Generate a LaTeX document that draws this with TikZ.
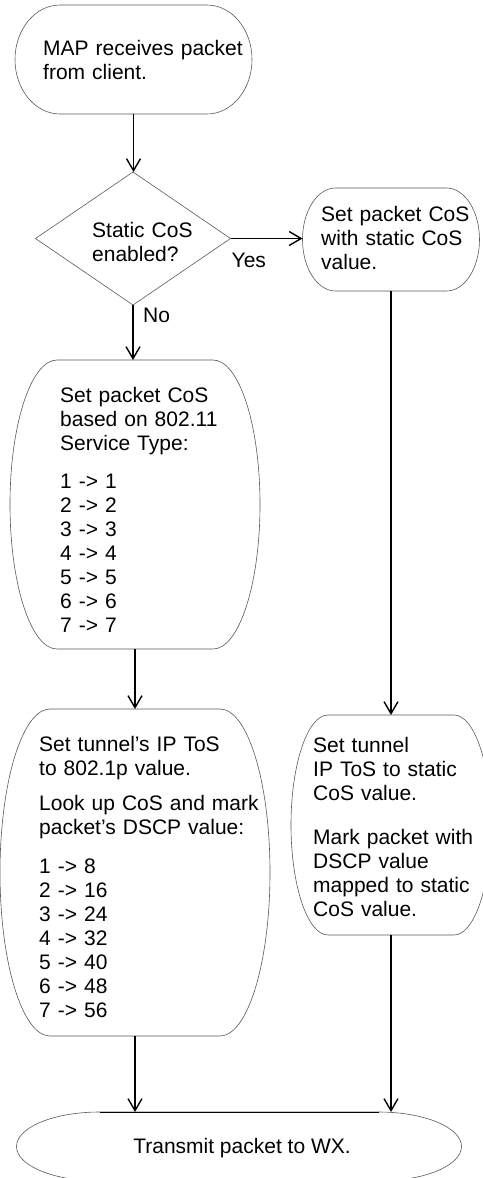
\documentclass[tikz,border=0pt]{standalone}
\usepackage{fontspec}
\setmainfont{Liberation Sans}
\usetikzlibrary{arrows.meta}
\usetikzlibrary{calc}
\usetikzlibrary{shapes.geometric}
\usetikzlibrary{positioning}

% outline of a box with bulging sides: node name, bulge
\newcommand{\capsule}[2]{%
    \draw[outline] let \p1=(#1.north west), \p2=(#1.south east), \n1={(\y1-\y2)/2} in
        (\x1+#2,\y1) -- (\x2-#2,\y1)
        arc[start angle=90, end angle=-90, x radius=#2, y radius={\n1*1pt}]
        -- (\x1+#2,\y2)
        arc[start angle=270, end angle=90, x radius=#2, y radius={\n1*1pt}] -- cycle;}

\begin{document}
\begin{tikzpicture}[x=1pt, y=-1pt,
        font=\fontsize{21}{24}\selectfont,
        outline/.style={draw=black!65, line width=0.6pt},
        flow/.style={draw, line width=1.4pt, -{Straight Barb[length=12pt, width=14pt]}},
        box/.style={inner sep=0pt, outer sep=0pt},
        txt/.style={inner sep=0pt, anchor=base west, align=left, text width=230pt},
        lbl/.style={inner sep=0pt, anchor=base west}]
    \useasboundingbox (0,0) rectangle (482,1178);

    % boxes
    \node[box, minimum width=237pt, minimum height=109pt] (recv) at (133.5,59.5) {};
    \node[box, diamond, outline, minimum width=195pt, minimum height=133pt] (dec) at (133,238.5) {};
    \node[box, minimum width=177pt, minimum height=103pt] (stat) at (391,239.5) {};
    \node[box, minimum width=250pt, minimum height=289pt] (prio) at (135,504.5) {};
    \node[box, minimum width=270pt, minimum height=327pt] (dscp) at (135,872.5) {};
    \node[box, minimum width=200pt, minimum height=220pt] (tun) at (391,825) {};
    \node[box, minimum width=445pt, minimum height=69pt] (tx) at (239,1146.5) {};

    \capsule{recv}{45pt}
    \capsule{stat}{33pt}
    \capsule{prio}{47pt}
    \capsule{dscp}{50pt}
    \capsule{tun}{37pt}
    \capsule{tx}{83pt}
    \draw[line width=1pt] ([xshift=83pt]tx.north west) -- ([xshift=-83pt]tx.north east);

    % texts
    \node[txt] (recv-t) at (43,55) {MAP receives packet\\from client.};
    \node[txt] (dec-t) at (92,237) {Static CoS\\enabled?};
    \node[txt] (stat-t) at (321,221) {Set packet CoS\\with static CoS\\value.};
    \node[txt] (prio-t) at (60,402) {Set packet CoS\\based on 802.11\\Service Type:\\[14pt]
        1 -> 1\\2 -> 2\\3 -> 3\\4 -> 4\\5 -> 5\\6 -> 6\\7 -> 7};
    \node[txt] (dscp-t) at (39,751) {Set tunnel's IP ToS\\to 802.1p value.\\[11pt]
        Look up CoS and mark\\packet's DSCP value:\\[15pt]
        1 -> 8\\2 -> 16\\3 -> 24\\4 -> 32\\5 -> 40\\6 -> 48\\7 -> 56};
    \node[txt] (tun-t) at (313,752) {Set tunnel\\IP ToS to static\\CoS value.\\[20pt]
        Mark packet with\\DSCP value\\mapped to static\\CoS value.};
    \node[inner sep=0pt, anchor=base] (tx-t) at (242,1153) {Transmit packet to WX.};

    \node[lbl] (yes) at ([shift={(1,29)}]dec.east) {Yes};
    \node[lbl] (no) at ([shift={(10,17)}]dec.south) {No};

    % connectors
    \draw[flow] (recv.south) -- (recv.south |- dec.north);
    \draw[flow] (dec.east) -- (dec.east -| stat.west);
    \draw[flow] (dec.south) -- (dec.south |- prio.north);
    \draw[flow] (prio.south) -- (dscp.north);
    \draw[flow] (stat.south) -- (stat.south |- tun.north);
    \draw[flow] (dscp.south) -- (dscp.south |- tx.north);
    \draw[flow] (tun.south) -- (tun.south |- tx.north);
\end{tikzpicture}
\end{document}
